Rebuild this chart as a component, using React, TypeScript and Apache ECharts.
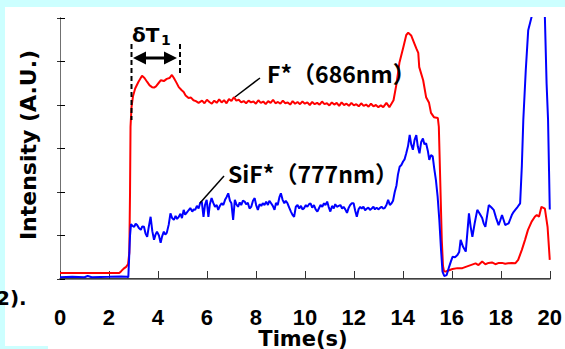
import React, { useEffect, useRef } from "react";
import * as echarts from "echarts";

const xTicks = [0, 2, 4, 6, 8, 10, 12, 14, 16, 18, 20];

// F* (686 nm) emission, red
const redX = [
  0, 2.42, 2.5, 2.6, 2.7, 2.78, 2.83, 2.86, 2.88, 2.92, 2.98, 3.07, 3.2, 3.35, 3.45, 3.56, 3.66, 3.76, 3.84, 3.92,
  4.02, 4.12, 4.24, 4.36, 4.47, 4.57, 4.65, 4.75, 4.85, 4.97, 5.05, 5.13, 5.25, 5.35, 5.45, 5.55, 5.66,
  5.8, 5.9, 6.0, 6.1, 6.2, 6.3, 6.4, 6.5, 6.6, 6.7, 6.8, 6.9, 7.0, 7.1, 7.2, 7.3, 7.4, 7.5, 7.6, 7.7, 7.8, 7.9,
  8.0, 8.1, 8.2, 8.3, 8.4, 8.5, 8.6, 8.7, 8.8, 8.9, 9.0, 9.1, 9.2, 9.3, 9.4, 9.5, 9.6, 9.7, 9.8, 9.9,
  10.0, 10.1, 10.2, 10.3, 10.4, 10.5, 10.6, 10.7, 10.8, 10.9, 11.0, 11.1, 11.2, 11.3, 11.4, 11.5, 11.6, 11.7, 11.8, 11.9,
  12.0, 12.1, 12.2, 12.3, 12.4, 12.5, 12.6, 12.7, 12.8, 12.9, 13.0, 13.1, 13.2, 13.33, 13.45, 13.62, 13.74, 13.86,
  14.02, 14.14, 14.22, 14.34, 14.46, 14.55, 14.63, 14.67, 14.83, 14.95, 15.07, 15.15, 15.27, 15.43, 15.47, 15.53,
  15.59, 15.64, 15.68, 15.75, 15.83, 16.03, 16.23, 16.43, 16.57, 16.77, 16.97, 17.09, 17.24, 17.37, 17.5, 17.64,
  17.78, 17.92, 18.05, 18.18, 18.3, 18.45, 18.59, 18.71, 18.86, 18.99, 19.11, 19.26, 19.39, 19.47, 19.56, 19.66,
  19.8, 19.91, 20.0,
];
const redY = [
  0.14, 0.14, 0.18, 0.24, 0.28, 0.34, 0.6, 2.0, 3.5, 3.95, 4.2, 4.38, 4.53, 4.67, 4.62, 4.53, 4.45, 4.41, 4.4, 4.43,
  4.5, 4.57, 4.55, 4.6, 4.62, 4.69, 4.62, 4.52, 4.41, 4.34, 4.3, 4.22, 4.16, 4.17, 4.11, 4.09, 4.05,
  4.1, 4.04, 4.12, 4.07, 4.03, 4.1, 4.05, 4.13, 4.06, 4.11, 4.04, 4.14, 4.09, 4.18, 4.1, 4.12, 4.06, 4.09, 4.04, 4.1, 4.06, 4.08,
  4.03, 4.11, 4.05, 4.08, 4.02, 4.09, 4.05, 4.12, 4.04, 4.07, 4.03, 4.1, 4.04, 4.06, 4.01, 4.09, 4.03, 4.07, 4.02, 4.08,
  4.03, 4.06, 4.0, 4.07, 4.02, 4.05, 4.01, 4.08, 4.02, 4.04, 3.99, 4.06, 4.01, 4.05, 3.98, 4.06, 4.0, 4.03, 3.98, 4.05,
  3.99, 4.02, 3.97, 4.04, 3.98, 4.01, 3.96, 4.03, 3.97, 4.0, 3.95, 3.99, 3.95, 4.05, 3.95, 4.11, 4.48, 4.97,
  5.33, 5.61, 5.66, 5.6, 5.43, 5.3, 5.2, 4.87, 4.57, 4.18, 4.05, 3.82, 3.72, 3.7, 3.5, 2.2,
  0.9, 0.3, 0.18, 0.17, 0.19, 0.23, 0.25, 0.25, 0.28, 0.32, 0.36, 0.32, 0.4, 0.34, 0.37, 0.38,
  0.34, 0.37, 0.37, 0.35, 0.36, 0.37, 0.36, 0.44, 0.67, 0.9, 1.13, 1.32, 1.43, 1.47, 1.43, 1.66,
  1.62, 1.2, 0.44,
];

// SiF* (777 nm) emission, blue
const blueX = [
  0, 0.5, 1.0, 1.13, 1.3, 2.0, 2.5, 2.75, 2.79, 2.86, 2.9, 2.96, 3.03, 3.09, 3.15, 3.22, 3.3, 3.36, 3.43, 3.49,
  3.56, 3.62, 3.7, 3.77, 3.84, 3.9, 3.96, 4.04, 4.11, 4.17, 4.24, 4.3, 4.36, 4.44, 4.51, 4.58, 4.65, 4.72, 4.78, 4.85,
  4.92, 4.98, 5.05, 5.11, 5.17, 5.25, 5.32, 5.4, 5.46, 5.52, 5.59, 5.66, 5.72, 5.79, 5.86, 5.92, 5.99, 6.06, 6.12, 6.19,
  6.26, 6.33, 6.4, 6.46, 6.53, 6.6, 6.67, 6.74, 6.8, 6.87, 6.94, 7.0, 7.07, 7.14, 7.2, 7.27, 7.34, 7.4, 7.47, 7.54,
  7.6, 7.67, 7.74, 7.81, 7.88, 7.95, 8.01, 8.08, 8.15, 8.22, 8.28, 8.35, 8.42, 8.49, 8.55, 8.62, 8.69, 8.76, 8.82, 8.89,
  8.96, 9.02, 9.09, 9.16, 9.22, 9.29, 9.36, 9.43, 9.49, 9.56, 9.63, 9.7, 9.77, 9.84, 9.9, 9.97, 10.04, 10.1, 10.17, 10.23,
  10.3, 10.37, 10.44, 10.51, 10.57, 10.64, 10.71, 10.78, 10.84, 10.91, 10.97, 11.04, 11.11, 11.18, 11.24, 11.31, 11.38,
  11.45, 11.52, 11.58, 11.65, 11.72, 11.79, 11.85, 11.92, 11.99, 12.05, 12.12, 12.19, 12.26, 12.32, 12.39, 12.46, 12.53,
  12.59, 12.66, 12.73, 12.8, 12.86, 12.93, 13.0, 13.06, 13.13, 13.2, 13.26, 13.33, 13.4, 13.47, 13.54, 13.6, 13.67, 13.74,
  13.8, 13.87, 13.94, 14.01, 14.07, 14.14, 14.21, 14.28, 14.34, 14.41, 14.48, 14.55, 14.61, 14.68, 14.75, 14.82, 14.88,
  14.95, 15.02, 15.08, 15.15, 15.22, 15.28, 15.35, 15.42, 15.49, 15.56, 15.62, 15.69, 15.79, 15.89, 15.96, 16.03, 16.13,
  16.23, 16.3, 16.36, 16.46, 16.57, 16.64, 16.7, 16.77, 16.84, 16.94, 17.04, 17.14, 17.24, 17.3, 17.37, 17.44, 17.51,
  17.61, 17.71, 17.81, 17.91, 17.98, 18.05, 18.12, 18.18, 18.25, 18.32, 18.39, 18.45, 18.52, 18.59, 18.69, 18.79, 18.86,
  18.92, 19.02, 19.12, 19.26, 19.4, 19.55, 19.7, 19.8, 19.87, 19.93, 19.97, 20.0,
];
const blueY = [
  0.04, 0.05, 0.04, 0.07, 0.04, 0.05, 0.06, 0.05, 0.04, 1.0, 1.26, 1.22, 1.2, 1.27, 1.24, 1.17, 1.13, 1.21, 1.2, 1.05,
  0.97, 1.18, 1.43, 1.1, 0.9, 1.02, 1.09, 1.0, 0.83, 0.98, 1.09, 1.02, 1.06, 1.25, 1.51, 1.4, 1.36, 1.45, 1.38, 1.43,
  1.5, 1.4, 1.59, 1.48, 1.52, 1.58, 1.63, 1.55, 1.6, 1.59, 1.68, 1.62, 1.74, 1.78, 1.43, 1.7, 1.82, 1.43, 1.72, 1.86,
  1.75, 1.66, 1.7, 1.59, 1.68, 1.74, 1.7, 1.82, 1.88, 1.97, 1.8, 1.74, 1.36, 1.82, 1.72, 1.66, 1.76, 1.7, 1.8, 1.78,
  1.72, 1.75, 1.62, 1.66, 1.8, 1.86, 1.7, 1.59, 1.72, 1.68, 1.74, 1.7, 1.78, 1.7, 1.8, 1.74, 1.68, 1.59, 1.75, 1.7,
  1.88, 1.97, 1.82, 1.74, 1.8, 1.74, 1.64, 1.55, 1.48, 1.43, 1.66, 1.7, 1.62, 1.68, 1.6, 1.63, 1.7, 1.66, 1.72, 1.74,
  1.64, 1.7, 1.6, 1.55, 1.62, 1.7, 1.66, 1.74, 1.7, 1.78, 1.66, 1.55, 1.68, 1.62, 1.72, 1.66, 1.68,
  1.7, 1.62, 1.66, 1.6, 1.52, 1.64, 1.7, 1.74, 1.74, 1.58, 1.43, 1.6, 1.66, 1.62, 1.66, 1.58, 1.62,
  1.64, 1.59, 1.62, 1.66, 1.6, 1.64, 1.6, 1.63, 1.66, 1.62, 1.63, 1.7, 1.82, 1.7, 1.74, 1.8, 2.0, 2.15,
  2.4, 2.58, 2.62, 2.7, 2.75, 2.89, 3.05, 3.31, 3.1, 2.97, 3.2, 3.31, 3.05, 2.89, 3.15, 3.23, 3.1,
  3.12, 2.95, 2.74, 2.85, 2.82, 2.55, 2.28, 1.9, 1.36, 0.67, 0.17, 0.07, 0.09, 0.28, 0.4, 0.51, 0.5,
  0.55, 0.62, 0.9, 0.74, 0.63, 1.1, 1.51, 1.2, 0.97, 1.3, 1.59, 1.5, 1.4, 1.28, 1.2, 1.45, 1.7,
  1.65, 1.59, 1.4, 1.24, 1.35, 1.47, 1.35, 1.24, 1.26, 1.28, 1.38, 1.47, 1.54, 1.59, 1.66, 1.74, 2.6,
  3.66, 4.8, 5.72, 6.03, 7.0, 7.5, 7.0, 6.03, 4.5, 3.66, 2.5, 1.6,
];

const redData = redX.map((x, i) => [x, redY[i]]);
const blueData = blueX.map((x, i) => [x, blueY[i]]);

const BOLD_SANS = "'DejaVu Sans', sans-serif";
const CJK = "'Noto Sans CJK JP', sans-serif";

export default function App() {
  const ref = useRef<HTMLDivElement>(null);
  useEffect(() => {
    if (!ref.current) return;
    const chart = echarts.init(ref.current, null, { renderer: "svg" });
    chart.setOption({
      animation: false,
      backgroundColor: "transparent",
      grid: { left: 60, top: 18, right: 10, bottom: 70, containLabel: false },
      xAxis: [
        {
          type: "value",
          min: 0,
          max: 20,
          interval: 2,
          position: "bottom",
          axisLine: { show: true, lineStyle: { color: "#000", width: 1.5 } },
          axisTick: { show: true, inside: true, length: 8, lineStyle: { color: "#333", width: 1 } },
          axisLabel: {
            show: true,
            margin: 27,
            color: "#000",
            fontSize: 22,
            fontWeight: "bold",
            fontFamily: "'Liberation Sans', Arial, sans-serif",
            formatter: (v: number) => (xTicks.includes(v) ? String(v) : ""),
          },
          splitLine: { show: false },
        },
        {
          type: "value",
          min: 0,
          max: 20,
          position: "top",
          axisLine: { show: true, lineStyle: { color: "#808080", width: 1 } },
          axisTick: { show: false },
          axisLabel: { show: false },
          splitLine: { show: false },
        },
      ],
      yAxis: [
        {
          type: "value",
          min: 0,
          max: 6,
          interval: 1,
          position: "left",
          axisLine: { show: true, lineStyle: { color: "#000", width: 1 } },
          axisTick: { show: true, inside: true, length: 5, lineStyle: { color: "#000", width: 1 } },
          axisLabel: { show: false },
          splitLine: { show: false },
        },
        {
          type: "value",
          min: 0,
          max: 6,
          interval: 1,
          position: "right",
          axisLine: { show: true, lineStyle: { color: "#707070", width: 1 } },
          axisTick: { show: true, inside: true, length: 3, lineStyle: { color: "#333", width: 1 } },
          axisLabel: { show: false },
          splitLine: { show: false },
        },
      ],
      series: [
        {
          name: "F*(686nm)",
          type: "line",
          data: redData,
          showSymbol: false,
          clip: true,
          lineStyle: { color: "#ff0000", width: 2 },
          itemStyle: { color: "#ff0000" },
          z: 3,
        },
        {
          name: "SiF*(777nm)",
          type: "line",
          data: blueData,
          showSymbol: false,
          clip: true,
          lineStyle: { color: "#0000ff", width: 2 },
          itemStyle: { color: "#0000ff" },
          z: 4,
        },
      ],
      graphic: [
        // y axis title
        {
          type: "text",
          x: 28,
          y: 145,
          rotation: Math.PI / 2,
          style: {
            text: "Intensity (A.U.)",
            fill: "#000",
            font: `bold 22px ${BOLD_SANS}`,
            align: "center",
            verticalAlign: "middle",
          },
        },
        // x axis title
        {
          type: "text",
          x: 303,
          y: 339,
          style: {
            text: "Time(s)",
            fill: "#000",
            font: `bold 21px ${BOLD_SANS}`,
            align: "center",
            verticalAlign: "middle",
          },
        },
        // cut-off caption text
        {
          type: "text",
          x: -4,
          y: 298,
          style: {
            text: "2).",
            fill: "#000",
            font: `bold 20px ${BOLD_SANS}`,
            align: "left",
            verticalAlign: "middle",
          },
        },
        // delta T1 label
        {
          type: "text",
          x: 132,
          y: 35,
          style: {
            text: "δT",
            fill: "#000",
            font: `bold 20px ${BOLD_SANS}`,
            align: "left",
            verticalAlign: "middle",
          },
        },
        {
          type: "text",
          x: 161,
          y: 40,
          style: {
            text: "1",
            fill: "#000",
            font: `bold 14px ${BOLD_SANS}`,
            align: "left",
            verticalAlign: "middle",
          },
        },
        // dashed markers
        {
          type: "line",
          shape: { x1: 131.5, y1: 44, x2: 131.5, y2: 120 },
          style: { stroke: "#000", lineWidth: 2, lineDash: [5, 3] },
          z: 10,
        },
        {
          type: "line",
          shape: { x1: 180, y1: 44, x2: 180, y2: 76 },
          style: { stroke: "#000", lineWidth: 2, lineDash: [5, 3] },
          z: 10,
        },
        // double arrow
        {
          type: "line",
          shape: { x1: 142, y1: 58, x2: 168, y2: 58 },
          style: { stroke: "#000", lineWidth: 3 },
          z: 10,
        },
        {
          type: "polygon",
          shape: { points: [[133, 58], [146, 51.5], [146, 64.5]] },
          style: { fill: "#000" },
          z: 10,
        },
        {
          type: "polygon",
          shape: { points: [[177, 58], [164, 51.5], [164, 64.5]] },
          style: { fill: "#000" },
          z: 10,
        },
        // F* label and pointer
        {
          type: "line",
          shape: { x1: 235, y1: 97, x2: 260, y2: 78 },
          style: { stroke: "#000", lineWidth: 1.5 },
          z: 10,
        },
        {
          type: "text",
          x: 267,
          y: 73,
          style: {
            text: "F*（686nm）",
            fill: "#000",
            font: `bold 23px ${CJK}`,
            align: "left",
            verticalAlign: "middle",
          },
          z: 10,
        },
        // SiF* label and pointer
        {
          type: "line",
          shape: { x1: 200, y1: 203, x2: 224, y2: 176 },
          style: { stroke: "#000", lineWidth: 1.5 },
          z: 10,
        },
        {
          type: "text",
          x: 228,
          y: 173,
          style: {
            text: "SiF*（777nm）",
            fill: "#000",
            font: `bold 23px ${CJK}`,
            align: "left",
            verticalAlign: "middle",
          },
          z: 10,
        },
      ],
    });
    return () => chart.dispose();
  }, []);

  return (
    <div
      style={{
        position: "fixed",
        left: 0,
        top: 0,
        width: 565,
        height: 349,
        background: "#ccffff",
        overflow: "hidden",
      }}
    >
      <div style={{ position: "absolute", left: 5, top: 7, right: 0, bottom: 0, background: "#ffffff" }} />
      <div style={{ position: "absolute", left: 0, bottom: 0, width: 48, height: 3, background: "#ccffff" }} />
      <div ref={ref} style={{ position: "absolute", left: 0, top: 0, width: 565, height: 349 }} />
    </div>
  );
}
